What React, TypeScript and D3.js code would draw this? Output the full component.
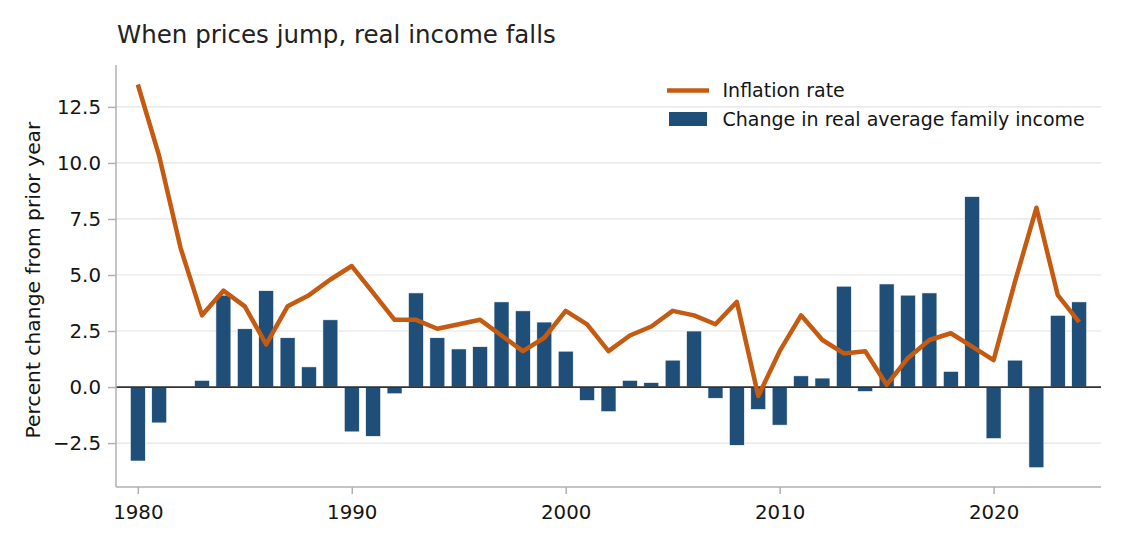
import React, { useEffect, useRef } from 'react';
import * as d3 from 'd3';

const years: number[] = d3.range(1980, 2025);

// change in real average family income, percent
const incomeChange: number[] = [
  -3.3, -1.6, 0.0, 0.3, 4.1, 2.6, 4.3, 2.2, 0.9, 3.0,
  -2.0, -2.2, -0.3, 4.2, 2.2, 1.7, 1.8, 3.8, 3.4, 2.9,
  1.6, -0.6, -1.1, 0.3, 0.2, 1.2, 2.5, -0.5, -2.6, -1.0,
  -1.7, 0.5, 0.4, 4.5, -0.2, 4.6, 4.1, 4.2, 0.7, 8.5,
  -2.3, 1.2, -3.6, 3.2, 3.8,
];

// inflation rate, percent
const inflation: number[] = [
  13.5, 10.3, 6.2, 3.2, 4.3, 3.6, 1.9, 3.6, 4.1, 4.8,
  5.4, 4.2, 3.0, 3.0, 2.6, 2.8, 3.0, 2.3, 1.6, 2.2,
  3.4, 2.8, 1.6, 2.3, 2.7, 3.4, 3.2, 2.8, 3.8, -0.4,
  1.6, 3.2, 2.1, 1.5, 1.6, 0.1, 1.3, 2.1, 2.4, 1.8,
  1.2, 4.7, 8.0, 4.1, 2.9,
];

const xTicks = [1980, 1990, 2000, 2010, 2020];
const yTicks = [-2.5, 0, 2.5, 5, 7.5, 10, 12.5];

const App: React.FC = () => {
  const svgRef = useRef<SVGSVGElement>(null);

  useEffect(() => {
    if (!svgRef.current) return;
    const width = 1125;
    const height = 546;
    const margin = { top: 65, right: 24, bottom: 59, left: 116 };
    const font = 'DejaVu Sans, sans-serif';
    const barColor = '#1f4e79';
    const lineColor = '#c55a11';
    const axisGrey = '#b0b0b0';
    const textColor = '#141414';

    const svg = d3.select(svgRef.current);
    svg.selectAll('*').remove();

    const x = d3.scaleLinear()
      .domain([1978.98, 2025.02])
      .range([margin.left, width - margin.right]);

    const y = d3.scaleLinear()
      .domain([-4.46, 14.37])
      .range([height - margin.bottom, margin.top]);

    const bw = x(1980.7) - x(1980);

    // grid
    svg.append('g')
      .selectAll('line')
      .data(yTicks)
      .enter()
      .append('line')
      .attr('x1', margin.left)
      .attr('x2', width - margin.right)
      .attr('y1', d => y(d))
      .attr('y2', d => y(d))
      .attr('stroke', '#e3e3e3')
      .attr('stroke-width', 1.2);

    // bars
    svg.append('g')
      .selectAll('rect')
      .data(years)
      .enter()
      .append('rect')
      .attr('x', d => x(d) - bw / 2)
      .attr('width', bw)
      .attr('y', (d, i) => y(Math.max(0, incomeChange[i])))
      .attr('height', (d, i) => Math.abs(y(incomeChange[i]) - y(0)))
      .attr('fill', barColor)
      .attr('stroke', (d, i) => (incomeChange[i] === 0 ? 'none' : '#ffffff'))
      .attr('stroke-width', 0.6);

    // zero line
    svg.append('line')
      .attr('x1', margin.left)
      .attr('x2', width - margin.right)
      .attr('y1', y(0))
      .attr('y2', y(0))
      .attr('stroke', '#333333')
      .attr('stroke-width', 1.8);

    // inflation line
    const line = d3.line<number>()
      .x((d, i) => x(years[i]))
      .y(d => y(d));

    svg.append('path')
      .datum(inflation)
      .attr('fill', 'none')
      .attr('stroke', lineColor)
      .attr('stroke-width', 4.5)
      .attr('stroke-linejoin', 'round')
      .attr('d', line);

    // axes
    const xAxis = svg.append('g')
      .attr('transform', `translate(0,${height - margin.bottom})`)
      .call(d3.axisBottom(x).tickValues(xTicks).tickFormat(d3.format('d')).tickSize(7).tickPadding(7));
    const yAxis = svg.append('g')
      .attr('transform', `translate(${margin.left},0)`)
      .call(d3.axisLeft(y).tickValues(yTicks).tickFormat(d3.format('.1f')).tickSize(8).tickPadding(7));

    [xAxis, yAxis].forEach(g => {
      g.select('.domain').attr('stroke', axisGrey).attr('stroke-width', 1.5);
      g.selectAll('.tick line').attr('stroke', axisGrey).attr('stroke-width', 1.5);
      g.selectAll('.tick text')
        .attr('fill', textColor)
        .attr('font-family', font)
        .attr('font-size', 19.8);
    });
    xAxis.selectAll('.tick text').attr('dy', '0.9em');
    // keep just the spines
    yAxis.select('.domain').attr('d', `M0,${y.range()[0]}V${y.range()[1]}`);
    xAxis.select('.domain').attr('d', `M${x.range()[0]},0H${x.range()[1]}`);

    // title
    svg.append('text')
      .attr('x', 117)
      .attr('y', 43)
      .attr('font-family', font)
      .attr('font-size', 24.5)
      .attr('fill', '#222222')
      .text('When prices jump, real income falls');

    // y label
    svg.append('text')
      .attr('transform', 'translate(40,280) rotate(-90)')
      .attr('text-anchor', 'middle')
      .attr('font-family', font)
      .attr('font-size', 20.3)
      .attr('fill', textColor)
      .text('Percent change from prior year');

    // legend
    const legend = svg.append('g');
    legend.append('line')
      .attr('x1', 667)
      .attr('x2', 709)
      .attr('y1', 90.5)
      .attr('y2', 90.5)
      .attr('stroke', lineColor)
      .attr('stroke-width', 4.5);
    legend.append('rect')
      .attr('x', 669)
      .attr('y', 112)
      .attr('width', 38)
      .attr('height', 14)
      .attr('fill', barColor);
    legend.append('text')
      .attr('x', 722.5)
      .attr('y', 97)
      .attr('font-family', font)
      .attr('font-size', 19)
      .attr('fill', textColor)
      .text('Inflation rate');
    legend.append('text')
      .attr('x', 722.5)
      .attr('y', 126)
      .attr('font-family', font)
      .attr('font-size', 19)
      .attr('fill', textColor)
      .text('Change in real average family income');
  }, []);

  return (
    <svg
      ref={svgRef}
      width={1125}
      height={546}
      style={{ position: 'absolute', left: 0, top: 0, background: '#ffffff' }}
    />
  );
};

export default App;
